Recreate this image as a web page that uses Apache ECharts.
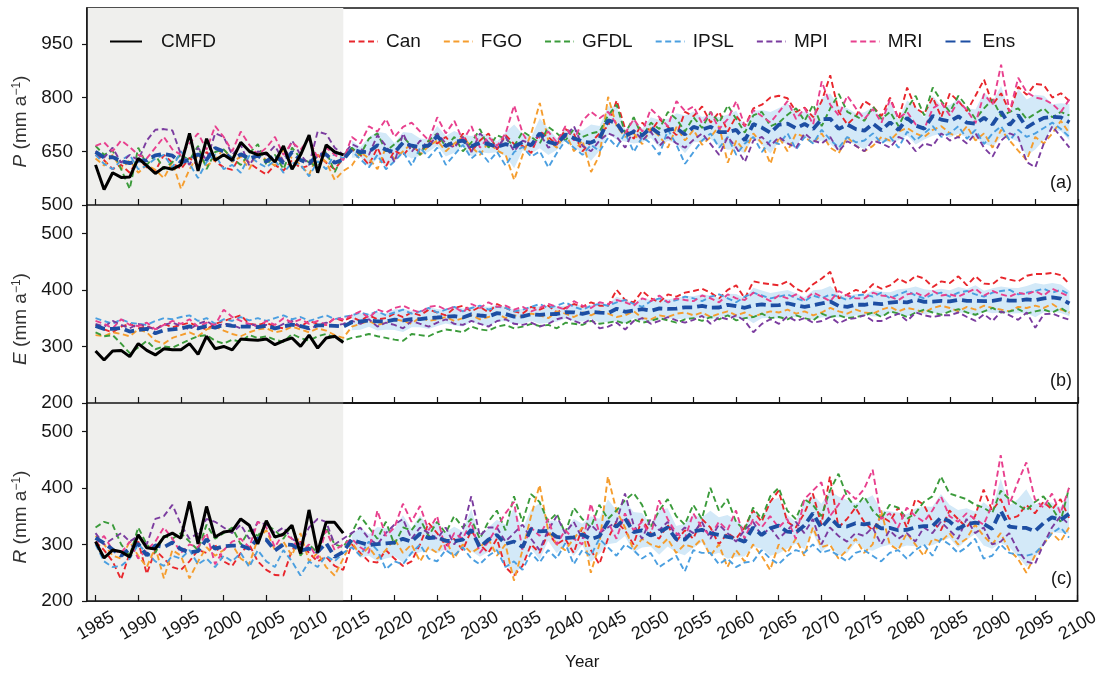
<!DOCTYPE html>
<html>
<head>
<meta charset="utf-8">
<title>P, E, R 1985–2100</title>
<script src="https://cdn.jsdelivr.net/npm/echarts@6/dist/echarts.min.js"></script>
<style>
  html, body { margin: 0; padding: 0; background: #ffffff; }
  #chart { width: 1102px; height: 676px; }
</style>
</head>
<body>
<div id="chart"></div>
<script>
// ---------------------------------------------------------------------------
// Annual series, mm a^-1. Models: 1985–2099, CMFD observations: 1985–2014.
// ---------------------------------------------------------------------------
const FIRST_YEAR = 1985;
const LAST_YEAR = 2099;
const OBS_END = 2014;          // end of the historical (CMFD) period
const SCENARIO_START = 2015;   // ensemble spread is shaded from here on

const modelNames = ['Can', 'FGO', 'GFDL', 'IPSL', 'MPI', 'MRI'];
const xTickYears = [1985, 1990, 1995, 2000, 2005, 2010, 2015, 2020, 2025, 2030, 2035, 2040,
  2045, 2050, 2055, 2060, 2065, 2070, 2075, 2080, 2085, 2090, 2095, 2100];
const pTicks = [500, 650, 800, 950];
const eTicks = [200, 300, 400, 500];
const rTicks = [200, 300, 400, 500];

// ---- (a) precipitation P ----
const pCMFD = [612, 543, 590, 577, 578, 630, 610, 588, 605, 600, 612, 700, 595, 685, 625,
  640, 625, 675, 650, 640, 645, 620, 665, 600, 640, 695, 590, 668, 648, 640];
const pCan = [640, 625, 600, 612, 590, 628, 605, 595, 640, 618,
  600, 632, 610, 648, 622, 605, 598, 640, 618, 600,
  585, 612, 596, 625, 603, 610, 640, 618, 600, 630,
  655, 640, 612, 660, 608, 652, 638, 668, 645, 680,
  672, 690, 660, 700, 648, 680, 700, 655, 695, 670,
  665, 645, 705, 690, 668, 712, 698, 650, 675, 700,
  720, 792, 712, 685, 730, 705, 740, 718, 695, 760,
  748, 775, 730, 760, 705, 748, 720, 770, 780, 800,
  805, 798, 760, 772, 745, 790, 862, 760, 725, 748,
  790, 775, 748, 800, 740, 828, 770, 755, 800, 745,
  812, 790, 762, 805, 850, 780, 812, 760, 830, 808,
  838, 835, 800, 812, 790];
const pFGO = [630, 610, 640, 600, 625, 590, 612, 598, 575, 620,
  545, 600, 640, 610, 625, 658, 620, 635, 600, 648,
  625, 610, 655, 630, 612, 585, 640, 620, 570, 595,
  610, 648, 630, 600, 662, 628, 650, 672, 640, 665,
  680, 650, 672, 690, 662, 640, 675, 652, 640, 570,
  640, 700, 785, 680, 660, 700, 650, 680, 592, 640,
  802, 720, 690, 700, 670, 715, 692, 660, 718, 680,
  710, 668, 690, 720, 618, 680, 650, 700, 672, 615,
  690, 650, 700, 690, 672, 700, 660, 645, 690, 665,
  650, 665, 690, 680, 705, 715, 700, 690, 710, 720,
  700, 690, 720, 680, 700, 660, 710, 680, 652, 625,
  690, 672, 700, 735, 700];
const pGFDL = [665, 640, 652, 600, 545, 660, 612, 640, 600, 620,
  640, 625, 665, 600, 648, 655, 630, 612, 645, 670,
  612, 640, 600, 660, 630, 620, 605, 650, 592, 640,
  660, 640, 685, 700, 650, 670, 690, 665, 640, 680,
  700, 662, 690, 650, 675, 712, 660, 695, 685, 665,
  705, 690, 672, 718, 700, 680, 712, 690, 700, 705,
  750, 780, 700, 745, 690, 730, 712, 760, 740, 705,
  745, 715, 760, 730, 778, 740, 702, 750, 760, 720,
  730, 752, 770, 735, 780, 720, 770, 810, 760, 748,
  735, 775, 740, 760, 720, 770, 805, 750, 828, 790,
  760, 805, 775, 740, 770, 795, 748, 760, 770, 740,
  755, 770, 745, 760, 750];
const pIPSL = [640, 615, 600, 625, 640, 600, 610, 630, 640, 605,
  650, 615, 575, 620, 640, 600, 612, 590, 638, 618,
  605, 625, 590, 618, 612, 580, 622, 600, 645, 630,
  650, 628, 605, 640, 600, 622, 648, 610, 660, 632,
  660, 612, 640, 668, 630, 650, 620, 648, 610, 648,
  662, 635, 650, 605, 645, 680, 660, 640, 668, 650,
  688, 662, 700, 648, 690, 672, 640, 710, 668, 615,
  648, 680, 700, 660, 690, 640, 672, 690, 648, 680,
  670, 700, 655, 690, 672, 710, 682, 660, 690, 675,
  680, 700, 672, 690, 660, 705, 680, 700, 720, 690,
  700, 720, 685, 710, 670, 700, 720, 680, 710, 690,
  700, 715, 730, 712, 690];
const pMPI = [650, 632, 660, 618, 640, 625, 680, 710, 712, 708,
  640, 612, 660, 625, 700, 690, 640, 668, 610, 650,
  640, 665, 622, 680, 640, 612, 705, 698, 660, 640,
  670, 658, 640, 695, 665, 620, 700, 648, 680, 660,
  700, 672, 660, 690, 648, 700, 675, 660, 690, 650,
  680, 670, 700, 660, 672, 690, 720, 665, 650, 680,
  700, 690, 660, 710, 680, 705, 665, 690, 672, 660,
  682, 700, 670, 640, 690, 660, 620, 680, 690, 665,
  690, 672, 660, 700, 680, 672, 690, 650, 678, 665,
  650, 680, 672, 660, 690, 680, 650, 672, 665, 700,
  680, 690, 672, 700, 660, 635, 680, 700, 690, 620,
  605, 672, 720, 690, 660];
const pMRI = [665, 675, 650, 680, 662, 640, 630, 660, 690, 655,
  640, 672, 700, 655, 720, 690, 650, 705, 668, 640,
  660, 690, 640, 675, 655, 685, 630, 660, 640, 625,
  690, 672, 720, 705, 740, 690, 718, 730, 705, 680,
  745, 700, 735, 680, 720, 660, 690, 665, 700, 778,
  700, 660, 690, 705, 675, 720, 680, 735, 760, 742,
  760, 725, 700, 740, 705, 768, 745, 720, 790, 762,
  775, 728, 760, 712, 740, 790, 720, 765, 748, 730,
  760, 790, 740, 770, 725, 845, 780, 750, 805, 770,
  740, 768, 730, 795, 742, 760, 725, 712, 770, 785,
  750, 790, 765, 728, 810, 780, 892, 760, 855, 815,
  800, 795, 782, 760, 795];

// ---- (b) evapotranspiration E ----
const eCMFD = [292, 276, 292, 293, 282, 305, 293, 285, 296, 294, 294, 305, 286, 318, 296,
  300, 294, 313, 312, 311, 313, 303, 310, 315, 300, 320, 297, 315, 318, 307];
const eCan = [338, 330, 325, 335, 340, 332, 336, 330, 340, 334,
  338, 342, 335, 330, 340, 345, 350, 355, 340, 338,
  342, 335, 332, 340, 335, 345, 340, 338, 350, 345,
  352, 345, 355, 348, 350, 358, 352, 360, 355, 365,
  360, 355, 368, 372, 362, 370, 360, 375, 368, 362,
  358, 370, 365, 372, 360, 368, 375, 370, 378, 372,
  372, 400, 382, 378, 398, 385, 378, 392, 388, 395,
  398, 402, 395, 385, 400, 408, 385, 415, 412, 410,
  408, 415, 402, 395, 410, 420, 432, 385, 392, 400,
  395, 410, 402, 408, 420, 412, 425, 420, 405, 415,
  412, 424, 408, 424, 411, 410, 422, 418, 415, 425,
  428, 428, 430, 426, 410];
const eFGO = [320, 318, 325, 322, 318, 330, 325, 310, 305, 315,
  320, 325, 318, 330, 335, 328, 322, 318, 325, 330,
  332, 325, 328, 335, 330, 325, 332, 328, 320, 315,
  335, 340, 345, 338, 342, 348, 345, 340, 352, 345,
  348, 352, 345, 350, 355, 348, 352, 358, 350, 355,
  352, 358, 355, 350, 362, 358, 352, 360, 355, 362,
  358, 352, 355, 362, 350, 348, 355, 352, 358, 360,
  355, 360, 352, 358, 362, 355, 360, 352, 358, 362,
  360, 365, 358, 362, 355, 360, 368, 362, 358, 365,
  360, 358, 365, 370, 362, 368, 365, 360, 368, 372,
  368, 362, 370, 365, 372, 368, 365, 362, 370, 368,
  372, 368, 375, 365, 360];
const eGFDL = [325, 318, 320, 305, 288, 298, 310, 295, 300, 298,
  305, 312, 318, 320, 310, 305, 312, 308, 320, 315,
  318, 312, 308, 322, 315, 310, 318, 322, 315, 310,
  315, 318, 322, 318, 315, 312, 310, 322, 320, 318,
  325, 330, 328, 325, 335, 330, 328, 335, 338, 332,
  335, 340, 336, 338, 332, 342, 340, 338, 345, 340,
  342, 345, 340, 348, 342, 345, 350, 346, 342, 348,
  350, 345, 352, 348, 355, 346, 350, 352, 358, 350,
  352, 348, 355, 350, 346, 358, 352, 355, 350, 352,
  355, 360, 352, 362, 358, 352, 360, 365, 360, 356,
  362, 366, 360, 356, 362, 368, 360, 362, 366, 358,
  362, 365, 360, 368, 358];
const eIPSL = [350, 345, 340, 348, 342, 340, 338, 345, 350, 348,
  352, 355, 345, 350, 340, 348, 345, 352, 346, 350,
  345, 350, 355, 348, 352, 345, 350, 355, 348, 352,
  355, 360, 356, 362, 355, 360, 365, 358, 362, 368,
  360, 365, 370, 362, 368, 372, 365, 370, 368, 362,
  365, 370, 375, 368, 372, 378, 370, 365, 372, 375,
  372, 378, 382, 375, 370, 380, 385, 378, 382, 388,
  385, 380, 388, 392, 385, 378, 388, 395, 390, 385,
  388, 392, 385, 380, 390, 385, 392, 388, 382, 390,
  392, 388, 395, 385, 392, 398, 390, 385, 392, 395,
  388, 395, 398, 392, 388, 395, 398, 400, 392, 395,
  398, 402, 395, 400, 392];
const eMPI = [340, 335, 345, 338, 332, 340, 335, 330, 338, 342,
  336, 330, 340, 345, 335, 340, 338, 332, 340, 336,
  338, 332, 340, 345, 335, 330, 338, 342, 336, 340,
  345, 340, 348, 335, 342, 338, 332, 345, 340, 335,
  342, 348, 340, 338, 345, 340, 335, 345, 348, 340,
  338, 342, 335, 340, 348, 352, 345, 340, 348, 332,
  335, 342, 330, 345, 350, 340, 345, 352, 346, 342,
  347, 354, 340, 352, 348, 355, 345, 325, 340, 348,
  340, 353, 345, 350, 342, 345, 352, 341, 348, 350,
  355, 345, 345, 352, 358, 345, 360, 355, 352, 355,
  355, 360, 352, 345, 357, 345, 362, 355, 347, 360,
  333, 357, 358, 352, 347];
const eMRI = [345, 340, 332, 348, 338, 336, 342, 330, 338, 345,
  340, 348, 335, 342, 338, 365, 352, 345, 340, 335,
  345, 338, 350, 342, 348, 340, 345, 338, 350, 348,
  355, 362, 350, 365, 360, 368, 372, 365, 360, 370,
  372, 365, 370, 360, 375, 368, 378, 370, 372, 365,
  370, 362, 368, 375, 370, 365, 380, 372, 368, 378,
  375, 382, 378, 372, 385, 380, 390, 378, 385, 382,
  380, 390, 385, 378, 392, 385, 382, 395, 388, 380,
  390, 385, 392, 382, 395, 388, 380, 398, 390, 385,
  385, 395, 390, 388, 382, 392, 395, 388, 398, 390,
  392, 388, 395, 402, 390, 398, 392, 388, 395, 392,
  398, 390, 402, 395, 388];

// ---- (c) runoff R ----
const rCMFD = [305, 276, 290, 287, 278, 317, 294, 292, 313, 320, 311, 376, 301, 367, 313,
  322, 324, 345, 334, 301, 342, 313, 318, 334, 284, 361, 286, 339, 339, 320];
const rCan = [305, 290, 270, 238, 285, 305, 248, 290, 275, 260,
  255, 270, 290, 285, 300, 270, 262, 285, 300, 270,
  255, 246, 245, 290, 305, 285, 270, 278, 262, 255,
  300, 285, 270, 268, 290, 275, 262, 270, 300, 338,
  320, 298, 310, 290, 325, 300, 285, 310, 260, 245,
  262, 300, 285, 320, 300, 310, 285, 330, 290, 265,
  310, 340, 325, 300, 345, 320, 310, 335, 305, 325,
  310, 345, 330, 300, 320, 310, 330, 360, 340, 375,
  395, 340, 330, 355, 390, 335, 420, 330, 345, 365,
  340, 325, 350, 340, 365, 330, 380, 370, 340, 325,
  360, 345, 330, 350, 397, 360, 380, 345, 350, 370,
  355, 375, 362, 380, 347];
const rFGO = [315, 300, 280, 275, 305, 280, 260, 295, 240, 290,
  280, 240, 270, 295, 280, 290, 300, 275, 265, 310,
  325, 290, 305, 280, 320, 270, 285, 260, 245, 275,
  305, 280, 295, 275, 290, 310, 285, 300, 270, 295,
  285, 310, 275, 300, 285, 295, 310, 280, 300, 236,
  290, 350, 405, 325, 300, 290, 310, 330, 250, 300,
  420, 360, 330, 290, 310, 300, 295, 310, 285, 300,
  295, 310, 280, 300, 260, 290, 270, 300, 280, 255,
  300, 285, 310, 280, 330, 295, 300, 275, 290, 310,
  285, 300, 360, 300, 290, 320, 300, 280, 310, 305,
  320, 300, 310, 335, 315, 300, 320, 290, 275, 250,
  280, 300, 320, 305, 330];
const rGFDL = [330, 340, 335, 300, 280, 330, 300, 285, 315, 310,
  320, 305, 290, 335, 310, 320, 330, 300, 325, 315,
  335, 325, 310, 335, 280, 300, 285, 330, 300, 295,
  320, 350, 330, 310, 340, 300, 330, 325, 345, 315,
  340, 320, 350, 330, 345, 310, 340, 360, 325, 385,
  340, 389, 375, 340, 355, 320, 365, 345, 330, 370,
  345, 360, 378, 391, 370, 330, 360, 380, 350, 335,
  370, 345, 400, 360, 380, 340, 325, 365, 345, 385,
  400, 360, 345, 380, 370, 350, 395, 425, 385, 365,
  385, 360, 345, 370, 365, 345, 355, 375, 385, 420,
  390, 385, 380, 370, 365, 355, 395, 380, 370, 360,
  375, 385, 365, 340, 400];
const rIPSL = [300, 270, 260, 262, 275, 300, 285, 270, 262, 280,
  275, 290, 265, 275, 260, 280, 270, 285, 260, 290,
  270, 260, 290, 270, 245, 270, 260, 280, 270, 285,
  295, 280, 305, 290, 256, 270, 265, 285, 300, 275,
  270, 290, 280, 295, 275, 265, 280, 290, 260, 270,
  255, 285, 268, 290, 275, 302, 265, 290, 280, 310,
  295, 280, 300, 290, 275, 285, 260, 270, 280, 252,
  290, 285, 285, 265, 275, 260, 268, 270, 290, 275,
  265, 280, 290, 285, 300, 285, 290, 280, 270, 285,
  290, 280, 270, 285, 290, 275, 290, 300, 280, 310,
  300, 285, 295, 310, 275, 280, 300, 285, 282, 280,
  284, 300, 320, 330, 312];
const rMPI = [320, 300, 310, 320, 305, 315, 300, 345, 350, 370,
  335, 310, 320, 345, 340, 330, 320, 335, 310, 340,
  335, 320, 330, 310, 300, 330, 345, 340, 300, 310,
  320, 330, 310, 300, 320, 335, 345, 310, 330, 320,
  310, 330, 300, 325, 385, 315, 330, 330, 305, 320,
  335, 310, 290, 325, 350, 320, 340, 310, 335, 320,
  330, 340, 390, 335, 310, 345, 325, 340, 315, 330,
  320, 340, 310, 335, 320, 305, 325, 340, 315, 330,
  310, 325, 340, 320, 345, 300, 330, 315, 305, 320,
  315, 330, 300, 325, 310, 320, 305, 330, 320, 340,
  325, 310, 345, 320, 330, 300, 305, 320, 290, 270,
  265, 300, 330, 350, 335];
const rMRI = [300, 315, 290, 285, 305, 275, 290, 305, 330, 310,
  285, 300, 295, 320, 265, 290, 305, 310, 295, 340,
  330, 295, 320, 310, 285, 300, 275, 325, 290, 300,
  310, 295, 285, 360, 315, 330, 372, 340, 368, 325,
  350, 290, 320, 310, 340, 285, 305, 330, 355, 375,
  290, 330, 315, 345, 300, 325, 310, 300, 372, 320,
  340, 310, 355, 325, 340, 315, 378, 345, 320, 310,
  355, 330, 315, 340, 325, 360, 310, 345, 330, 350,
  330, 345, 310, 380, 395, 410, 350, 370, 395, 380,
  398, 432, 345, 355, 330, 365, 350, 340, 360, 385,
  350, 340, 355, 345, 335, 370, 458, 370, 410, 445,
  380, 365, 390, 355, 400];

// ---------------------------------------------------------------------------
// Styling
// ---------------------------------------------------------------------------
const FONT = '"Liberation Sans", Arial, Helvetica, sans-serif';
const INK = '#151515';
const modelColors = {
  Can: '#e8262c', FGO: '#f59d2e', GFDL: '#3b9b3b',
  IPSL: '#4b9fe0', MPI: '#7b3c9f', MRI: '#e8408e'
};
const ENS_COLOR = '#1d4ea3';
const SPREAD_COLOR = '#d3e9f8';
const HIST_SHADE = '#efefed';

const years = [];
for (let y = FIRST_YEAR; y <= LAST_YEAR; y++) years.push(y);

const panels = [
  { label: '(a)', sym: 'P', min: 500, max: 1050, ticks: pTicks, obs: pCMFD,
    models: [pCan, pFGO, pGFDL, pIPSL, pMPI, pMRI] },
  { label: '(b)', sym: 'E', min: 200, max: 550, ticks: eTicks, obs: eCMFD,
    models: [eCan, eFGO, eGFDL, eIPSL, eMPI, eMRI] },
  { label: '(c)', sym: 'R', min: 200, max: 550, ticks: rTicks, obs: rCMFD,
    models: [rCan, rFGO, rGFDL, rIPSL, rMPI, rMRI] }
];

const gridTops = [8, 205, 403];
const gridHeights = [197, 198, 198];

// multi-model mean and one standard deviation across the six models
function ensembleStats(models) {
  const mean = [], sd = [];
  for (let i = 0; i < years.length; i++) {
    let s = 0;
    models.forEach(m => { s += m[i]; });
    const mu = s / models.length;
    let v = 0;
    models.forEach(m => { v += (m[i] - mu) * (m[i] - mu); });
    mean.push(mu);
    sd.push(Math.sqrt(v / models.length));
  }
  return { mean, sd };
}

const plain = v => String(v);
const grids = [], xAxes = [], yAxes = [], series = [], graphics = [];

panels.forEach((p, gi) => {
  const last = gi === panels.length - 1;
  grids.push({
    left: 87, right: 24, top: gridTops[gi], height: gridHeights[gi],
    show: true, borderColor: INK, borderWidth: 1.6, backgroundColor: 'transparent'
  });
  xAxes.push({
    type: 'value', gridIndex: gi, min: 1984, max: 2100,
    axisLine: { onZero: false, lineStyle: { color: INK, width: 1.6 } },
    axisTick: { show: true, inside: true, length: 6, customValues: xTickYears,
      lineStyle: { color: INK, width: 1.2 } },
    axisLabel: { show: last, customValues: xTickYears, rotate: 30, margin: 25,
      align: 'center', verticalAlign: 'middle',
      fontSize: 18, color: INK, fontFamily: FONT, formatter: plain },
    splitLine: { show: false },
    name: last ? 'Year' : '', nameLocation: 'middle', nameGap: 53,
    nameTextStyle: { fontSize: 17, color: INK, fontFamily: FONT }
  });
  yAxes.push({
    type: 'value', gridIndex: gi, min: p.min, max: p.max,
    axisLine: { show: true, lineStyle: { color: INK, width: 1.6 } },
    axisTick: { show: true, inside: false, length: 5, customValues: p.ticks,
      lineStyle: { color: INK, width: 1.2 } },
    axisLabel: { customValues: p.ticks, margin: 14, fontSize: 19, color: INK,
      fontFamily: FONT, formatter: plain },
    splitLine: { show: false },
    name: '{it|' + p.sym + '} (mm a{sup|\u22121})',
    nameLocation: 'middle', nameRotate: 90, nameGap: 57,
    nameTextStyle: {
      fontSize: 19, color: '#333', fontFamily: FONT, padding: [0, 30, 0, 0],
      rich: {
        it: { fontStyle: 'italic', fontSize: 19, color: '#333', fontFamily: FONT },
        sup: { fontSize: 12, color: '#333', fontFamily: FONT, verticalAlign: 'top', lineHeight: 19 }
      }
    }
  });

  const stats = ensembleStats(p.models);
  const spreadIdx = [];
  years.forEach((y, i) => { if (y >= SCENARIO_START) spreadIdx.push(i); });
  const lo = spreadIdx.map(i => [years[i], stats.mean[i] - stats.sd[i]]);
  const hi = spreadIdx.map(i => [years[i], stats.mean[i] + stats.sd[i]]);

  // shaded ensemble spread (±1 s.d.), drawn as one polygon through the axis scales
  series.push({
    name: 'spread', type: 'custom', xAxisIndex: gi, yAxisIndex: gi, z: 1, silent: true,
    data: spreadIdx.map((i, k) => [years[i], lo[k][1], hi[k][1]]),
    encode: { x: 0, y: [1, 2] },
    renderItem: function (params, api) {
      if (params.dataIndex !== 0) return null;
      const pts = [];
      hi.forEach(d => pts.push(api.coord(d)));
      for (let k = lo.length - 1; k >= 0; k--) pts.push(api.coord(lo[k]));
      return { type: 'polygon', shape: { points: pts }, style: { fill: SPREAD_COLOR } };
    }
  });

  p.models.forEach((vals, mi) => {
    const name = modelNames[mi];
    series.push({
      name: name, type: 'line', xAxisIndex: gi, yAxisIndex: gi, z: 3,
      symbol: 'none', silent: true,
      data: years.map((y, i) => [y, vals[i]]),
      lineStyle: { color: modelColors[name], width: 1.9, type: [6, 3.5] },
      itemStyle: { color: modelColors[name] }
    });
  });

  series.push({
    name: 'Ens', type: 'line', xAxisIndex: gi, yAxisIndex: gi, z: 4,
    symbol: 'none', silent: true,
    data: years.map((y, i) => [y, stats.mean[i]]),
    lineStyle: { color: ENS_COLOR, width: 3.8, type: [10, 5] },
    itemStyle: { color: ENS_COLOR }
  });

  series.push({
    name: 'CMFD', type: 'line', xAxisIndex: gi, yAxisIndex: gi, z: 5,
    symbol: 'none', silent: true,
    data: p.obs.map((v, i) => [years[i], v]),
    lineStyle: { color: '#000', width: 3, type: 'solid' },
    itemStyle: { color: '#000' },
    markArea: {
      silent: true, z: 0,
      itemStyle: { color: HIST_SHADE },
      data: [[{ xAxis: 1984 }, { xAxis: OBS_END }]]
    }
  });

  graphics.push({
    type: 'text', right: 30, top: gridTops[gi] + gridHeights[gi] - 31,
    style: { text: p.label, font: '18px ' + FONT, fill: INK }
  });
});

const legendText = { fontSize: 19, color: INK, fontFamily: FONT };
const chart = echarts.init(document.getElementById('chart'), null, { renderer: 'canvas' });
chart.setOption({
  backgroundColor: '#ffffff',
  animation: false,
  grid: grids,
  xAxis: xAxes,
  yAxis: yAxes,
  legend: [
    {
      data: ['CMFD'], left: 104, top: 27, itemWidth: 32, itemHeight: 14,
      itemStyle: { opacity: 0 },
      textStyle: Object.assign({ padding: [0, 0, 0, 14] }, legendText),
      selectedMode: false
    },
    {
      data: ['Can', 'FGO', 'GFDL', 'IPSL', 'MPI', 'MRI', 'Ens'], left: 343, top: 27,
      itemWidth: 29, itemHeight: 14, itemGap: 22,
      itemStyle: { opacity: 0 },
      textStyle: Object.assign({ padding: [0, 0, 0, 3] }, legendText),
      selectedMode: false
    }
  ],
  graphic: graphics,
  series: series
});
</script>
</body>
</html>
